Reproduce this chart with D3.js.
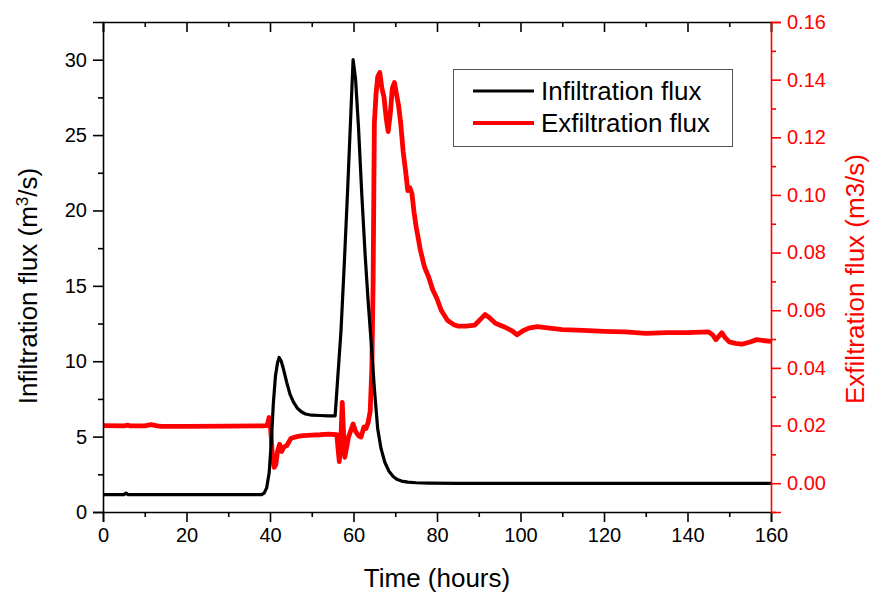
<!DOCTYPE html>
<html>
<head>
<meta charset="utf-8">
<script src="https://cdn.jsdelivr.net/npm/d3@7"></script>
<style>
  html, body { margin: 0; padding: 0; background: #fff; }
  svg { display: block; font-family: "Liberation Sans", Arial, sans-serif; }
</style>
</head>
<body>
<svg id="chart" width="870" height="595"></svg>
<script>
// ---- Data ----
const infilTime = [0, 5, 5.5, 6, 10, 20, 30, 38, 38.6, 39.2, 39.8, 40.3, 40.8, 41.3, 41.8, 42.2, 42.7, 43.3, 44, 44.8, 45.6, 46.5, 47.5, 48.5, 50, 52, 54, 55.6, 56.2, 57, 57.8, 58.6, 59.3, 59.9, 60.5, 61.2, 62, 62.8, 63.5, 64.3, 65, 65.8, 66.6, 67.5, 68.5, 69.5, 70.5, 71.5, 73, 75, 78, 85, 100, 120, 140, 160];
const infilFlux = [1.15, 1.15, 1.25, 1.15, 1.15, 1.15, 1.15, 1.15, 1.25, 1.6, 2.6, 4.6, 7.2, 9.0, 9.9, 10.25, 10.0, 9.4, 8.6, 7.8, 7.3, 6.9, 6.65, 6.5, 6.42, 6.4, 6.38, 6.38, 8.8, 12, 16.5, 21.4, 26, 30, 28.7, 25.5, 21, 17, 14, 11, 8.2, 5.5, 4.2, 3.3, 2.7, 2.35, 2.15, 2.05, 1.98, 1.94, 1.92, 1.9, 1.9, 1.9, 1.9, 1.9];

const exfilTime = [0, 5, 6, 6.5, 10, 11.5, 13, 14, 20, 30, 38, 39.3, 39.8, 40.2, 40.6, 41, 41.4, 41.8, 42.3, 42.8, 43.3, 44, 45, 46, 47, 48, 50, 52, 54, 56, 56.3, 56.6, 57, 57.3, 57.6, 57.9, 58.3, 58.8, 59.3, 59.9, 60.5, 61.2, 61.8, 62.5, 63, 63.5, 64, 64.4, 64.7, 65, 65.4, 65.8, 66.3, 66.8, 67.3, 67.8, 68.3, 68.8, 69.3, 69.8, 70.3, 70.8, 71.3, 71.9, 72.5, 73, 73.5, 74, 74.5, 75, 75.5, 76, 77, 78, 79, 80, 81, 82.5, 84, 85, 87, 89, 90.5, 91.5, 92.5, 94, 96, 98, 99.2, 100.5, 102, 104, 106, 110, 115, 120, 125, 130, 135, 140, 145, 146, 146.8, 147.5, 148.2, 149, 150, 151.5, 153, 155, 156.6, 158, 160];
const exfilFlux = [0.0200, 0.0199, 0.0201, 0.0199, 0.0199, 0.0203, 0.0199, 0.0197, 0.0197, 0.0198, 0.0199, 0.0200, 0.0228, 0.018, 0.009, 0.0055, 0.0065, 0.011, 0.0135, 0.011, 0.0125, 0.013, 0.0155, 0.0160, 0.0163, 0.0165, 0.0167, 0.0168, 0.0170, 0.0168, 0.012, 0.0075, 0.016, 0.028, 0.018, 0.009, 0.012, 0.016, 0.018, 0.0205, 0.018, 0.0165, 0.016, 0.0195, 0.019, 0.021, 0.025, 0.04, 0.07, 0.125, 0.135, 0.141, 0.1425, 0.137, 0.134, 0.127, 0.122, 0.128, 0.137, 0.139, 0.135, 0.131, 0.125, 0.115, 0.108, 0.1015, 0.1025, 0.1005, 0.094, 0.089, 0.085, 0.081, 0.075, 0.0715, 0.067, 0.064, 0.060, 0.0565, 0.055, 0.0545, 0.0545, 0.0548, 0.057, 0.0585, 0.0575, 0.0555, 0.0543, 0.0528, 0.0515, 0.0528, 0.0538, 0.0543, 0.054, 0.0533, 0.053, 0.0527, 0.0525, 0.052, 0.0522, 0.0522, 0.0525, 0.0515, 0.0498, 0.051, 0.0522, 0.0505, 0.049, 0.0485, 0.0482, 0.049, 0.0498, 0.0495, 0.0492];

const xTicks = [0, 20, 40, 60, 80, 100, 120, 140, 160];
const xMinorTicks = [10, 30, 50, 70, 90, 110, 130, 150];
const yLeftTicks = [0, 5, 10, 15, 20, 25, 30];
const yLeftMinorTicks = [2.5, 7.5, 12.5, 17.5, 22.5, 27.5];
const yRightTicks = [0, 0.02, 0.04, 0.06, 0.08, 0.10, 0.12, 0.14, 0.16];
const yRightMinorTicks = [-0.01, 0.01, 0.03, 0.05, 0.07, 0.09, 0.11, 0.13, 0.15];
const seriesNames = ["Infiltration flux", "Exfiltration flux"];
const seriesColors = ["#000000", "#ff0000"];

// ---- Layout ----
const L = 103, R = 771, T = 22, B = 512;
const svg = d3.select("#chart");

const x = d3.scaleLinear().domain([0, 160]).range([L, R]);
const yL = d3.scaleLinear().domain([0, 32.5]).range([B, T]);
const yR = d3.scaleLinear().domain([-0.01, 0.16]).range([B, T]);

svg.append("defs").append("clipPath").attr("id", "plotclip")
  .append("rect").attr("x", L).attr("y", T - 2).attr("width", R - L).attr("height", B - T + 4);

// ---- Lines ----
const infil = infilTime.map((t, i) => [t, infilFlux[i]]);
const exfil = exfilTime.map((t, i) => [t, exfilFlux[i]]);

const g = svg.append("g").attr("clip-path", "url(#plotclip)");
g.append("path").datum(exfil)
  .attr("fill", "none").attr("stroke", seriesColors[1]).attr("stroke-width", 4.8)
  .attr("stroke-linejoin", "round")
  .attr("d", d3.line().x(d => x(d[0])).y(d => yR(d[1])));
g.append("path").datum(infil)
  .attr("fill", "none").attr("stroke", seriesColors[0]).attr("stroke-width", 3.2)
  .attr("stroke-linejoin", "round")
  .attr("d", d3.line().x(d => x(d[0])).y(d => yL(d[1])));

// ---- Axes ----
function styleAxis(sel, color, fs) {
  sel.selectAll("path").attr("stroke", color).attr("stroke-width", 1.6);
  sel.selectAll("line").attr("stroke", color).attr("stroke-width", 1.6);
  sel.selectAll("text").attr("fill", color).style("font-size", fs + "px")
    .style("font-family", '"Liberation Sans", Arial, sans-serif');
}

// bottom
const gB = svg.append("g").attr("transform", `translate(0,${B})`)
  .call(d3.axisBottom(x).tickValues(xTicks).tickSize(10).tickPadding(6).tickFormat(d3.format("d")));
styleAxis(gB, "#000", 20);
const gBm = svg.append("g").attr("transform", `translate(0,${B})`)
  .call(d3.axisBottom(x).tickValues(xMinorTicks).tickSize(5).tickFormat(""));
styleAxis(gBm, "#000", 20);
gBm.select("path").remove();

// top (ticks inward)
const gT = svg.append("g").attr("transform", `translate(0,${T})`)
  .call(d3.axisTop(x).tickValues(xTicks).tickSize(-10).tickFormat(""));
styleAxis(gT, "#000", 20);
const gTm = svg.append("g").attr("transform", `translate(0,${T})`)
  .call(d3.axisTop(x).tickValues(xMinorTicks).tickSize(-5).tickFormat(""));
styleAxis(gTm, "#000", 20);
gTm.select("path").remove();

// left
const gL = svg.append("g").attr("transform", `translate(${L},0)`)
  .call(d3.axisLeft(yL).tickValues(yLeftTicks).tickSize(10).tickPadding(6).tickFormat(d3.format("d")));
styleAxis(gL, "#000", 20);
const gLm = svg.append("g").attr("transform", `translate(${L},0)`)
  .call(d3.axisLeft(yL).tickValues(yLeftMinorTicks).tickSize(5).tickFormat(""));
styleAxis(gLm, "#000", 20);
gLm.select("path").remove();

// right
const gR = svg.append("g").attr("transform", `translate(${R},0)`)
  .call(d3.axisRight(yR).tickValues(yRightTicks).tickSize(10).tickPadding(6).tickFormat(d3.format(".2f")));
styleAxis(gR, "#ff0000", 20);
const gRm = svg.append("g").attr("transform", `translate(${R},0)`)
  .call(d3.axisRight(yR).tickValues(yRightMinorTicks).tickSize(5).tickFormat(""));
styleAxis(gRm, "#ff0000", 20);
gRm.select("path").remove();

// ---- Axis titles ----
svg.append("text").attr("x", (L + R) / 2).attr("y", 587).attr("text-anchor", "middle")
  .style("font-size", "26px").attr("fill", "#000").text("Time (hours)");

const lt = svg.append("text").attr("transform", "translate(37,286) rotate(-90)")
  .attr("text-anchor", "middle").style("font-size", "26px").attr("fill", "#000");
lt.append("tspan").text("Infiltration flux (m");
lt.append("tspan").attr("dy", -9).style("font-size", "17px").text("3");
lt.append("tspan").attr("dy", 9).text("/s)");

svg.append("text").attr("transform", "translate(864,279) rotate(-90)")
  .attr("text-anchor", "middle").style("font-size", "26px").attr("fill", "#ff0000")
  .text("Exfiltration flux (m3/s)");

// ---- Legend ----
const lg = svg.append("g");
lg.append("rect").attr("x", 453.5).attr("y", 69.5).attr("width", 279).attr("height", 77)
  .attr("fill", "#fff").attr("stroke", "#555").attr("stroke-width", 1);
const legY = [91, 123];
seriesNames.forEach((name, i) => {
  lg.append("line").attr("x1", 473).attr("x2", 534).attr("y1", legY[i]).attr("y2", legY[i])
    .attr("stroke", seriesColors[i]).attr("stroke-width", i === 0 ? 3.2 : 4);
  lg.append("text").attr("x", 541).attr("y", legY[i]).attr("dy", "0.35em")
    .style("font-size", "26px").attr("fill", "#000").text(name);
});
</script>
</body>
</html>
